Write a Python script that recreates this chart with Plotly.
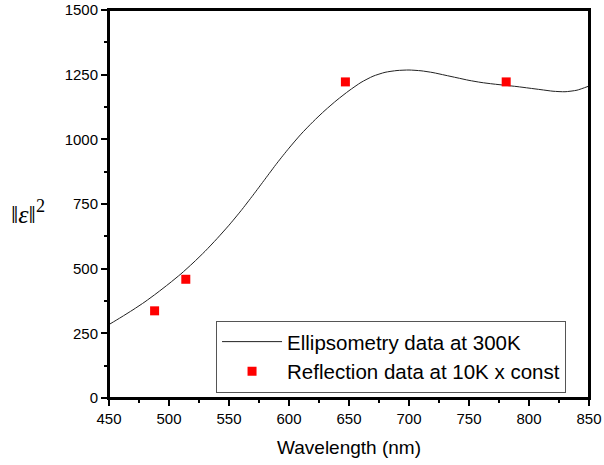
import plotly.graph_objects as go

wl = [450, 460, 470, 480, 490, 500, 510, 520, 530, 540, 550, 560, 570, 580, 590,
      600, 610, 620, 630, 640, 650, 660, 670, 680, 690, 700, 710, 720, 730, 740,
      750, 760, 770, 780, 790, 800, 810, 820, 830, 840, 850]
eps2 = [284, 312, 341, 372, 406, 442, 480, 522, 567, 616, 668, 724, 784, 846, 908,
        966, 1020, 1068, 1112, 1152, 1188, 1220, 1244, 1259, 1266, 1268, 1265, 1258, 1248, 1238,
        1228, 1220, 1214, 1209, 1204, 1198, 1192, 1186, 1184, 1190, 1206]

refl_wl = [488, 514, 647, 781]
refl_val = [337, 459, 1222, 1222]

font_family = "Arial, Liberation Sans, sans-serif"

fig = go.Figure()
fig.add_trace(go.Scatter(
    x=wl, y=eps2, mode="lines", name="Ellipsometry data at 300K",
    line=dict(color="#222222", width=1, shape="spline", smoothing=0.6),
))
fig.add_trace(go.Scatter(
    x=refl_wl, y=refl_val, mode="markers", name="Reflection data at 10K x const",
    marker=dict(symbol="square", size=9, color="#ff0000"),
))

axis_common = dict(
    showline=True, linecolor="#000000", linewidth=2, mirror=True,
    ticks="outside", ticklen=6, tickwidth=1.5, tickcolor="#000000",
    showgrid=False, zeroline=False, automargin=False,
    tickfont=dict(family=font_family, size=15, color="black"),
)

fig.update_xaxes(
    range=[450, 850], dtick=50, tick0=450,
    minor=dict(ticks="outside", ticklen=3, tickwidth=1.5, tickcolor="#000000", dtick=25, tick0=450, showgrid=False),
    title=dict(text="Wavelength (nm)", font=dict(family=font_family, size=19, color="black")),
    **axis_common,
)
fig.update_yaxes(
    range=[0, 1500], dtick=250, tick0=0,
    minor=dict(ticks="outside", ticklen=3, tickwidth=1.5, tickcolor="#000000", dtick=125, tick0=0, showgrid=False),
    **axis_common,
)

# plot frame
fig.add_shape(type="rect", xref="paper", yref="paper", x0=0, y0=0, x1=1, y1=1,
              line=dict(color="#000000", width=2), fillcolor="rgba(0,0,0,0)", layer="above")

fig.add_annotation(
    text="‖<i>ε</i>‖<sup>2</sup>", xref="paper", yref="paper",
    x=-0.169, y=0.479, xanchor="center", yanchor="middle", showarrow=False,
    font=dict(family="Liberation Serif, Times New Roman, serif", size=26, color="black"),
)

fig.update_layout(
    width=604, height=465, autosize=False,
    margin=dict(l=109, r=15, t=10, b=67, pad=0),
    paper_bgcolor="white", plot_bgcolor="white",
    showlegend=True,
    legend=dict(
        x=0.223, y=0.199, xanchor="left", yanchor="top",
        bordercolor="#555555", borderwidth=1, bgcolor="white",
        font=dict(family=font_family, size=20.5, color="black"),
        itemwidth=60, tracegroupgap=0,
    ),
)

fig.write_html("out.html")
